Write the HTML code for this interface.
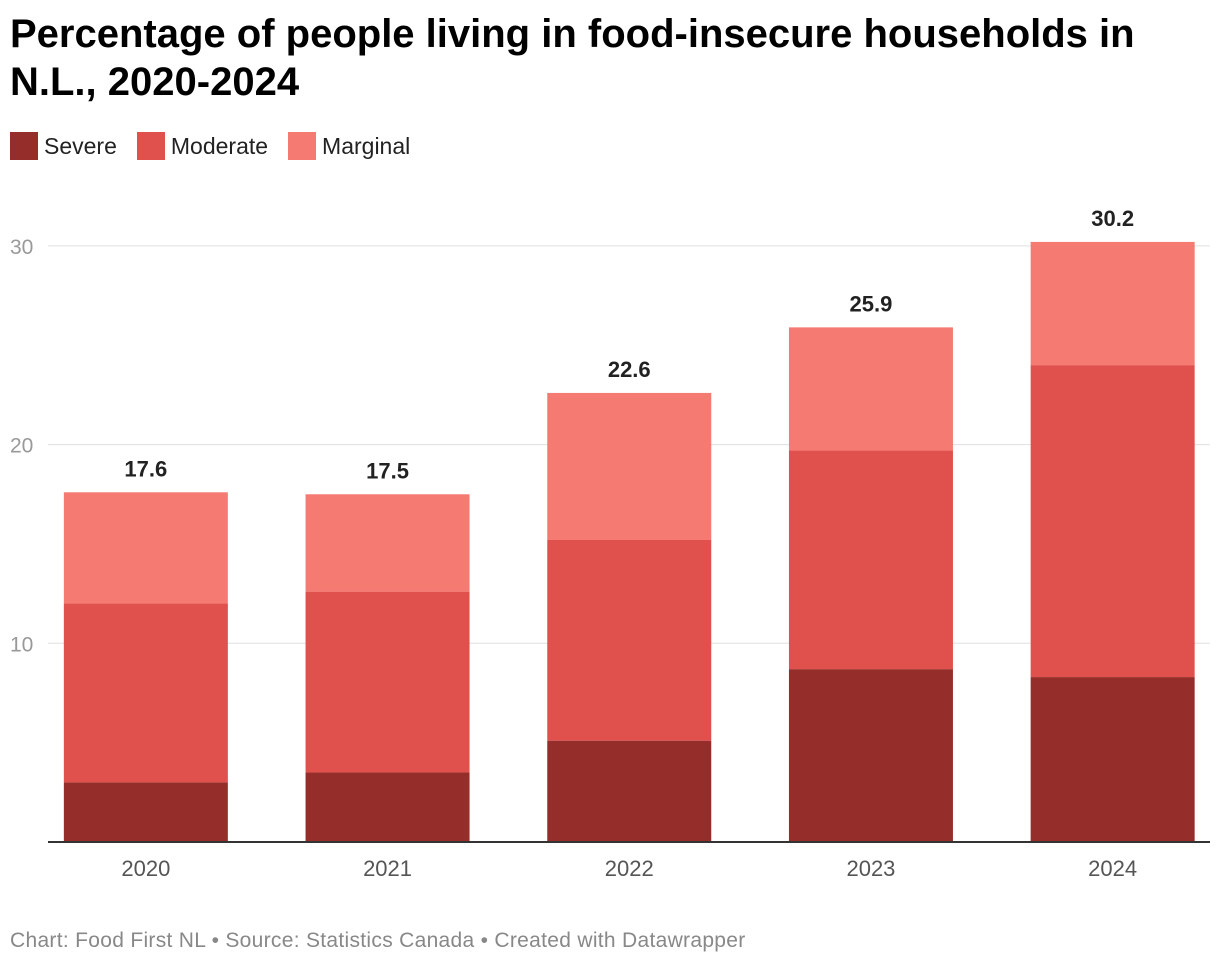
<!DOCTYPE html>
<html><head><meta charset="utf-8"><style>
body{margin:0;width:1220px;height:966px;background:#fff;font-family:"Liberation Sans",sans-serif;overflow:hidden;position:relative}
h1{position:absolute;left:10px;top:10px;margin:0;font-size:40px;line-height:48px;font-weight:bold;color:#000;width:1190px}
.legend{position:absolute;left:10px;top:132px;display:flex;font-size:23px;color:#222}
.li{display:flex;align-items:center;margin-right:20px}
.sw{width:28px;height:28px;margin-right:6px}
.foot{position:absolute;left:10px;top:929px;font-size:21px;color:#888;letter-spacing:0.3px}
</style></head><body>
<h1>Percentage of people living in food-insecure households in N.L., 2020-2024</h1>
<div class="legend">
<div class="li"><div class="sw" style="background:#952d2b"></div>Severe</div>
<div class="li"><div class="sw" style="background:#e0504c"></div>Moderate</div>
<div class="li"><div class="sw" style="background:#f47a72"></div>Marginal</div>
</div>
<svg id="chart" width="1220" height="966" style="position:absolute;left:0;top:0"></svg>
<div class="foot">Chart: Food First NL • Source: Statistics Canada • Created with Datawrapper</div>
<script>
const years=["2020","2021","2022","2023","2024"];
const severe=[3.0,3.5,5.1,8.7,8.3];
const moderate=[9.0,9.1,10.1,11.0,15.7];
const marginal=[5.6,4.9,7.4,6.2,6.2];
const totals=["17.6","17.5","22.6","25.9","30.2"];
const yTicks=[10,20,30];
const NS="http://www.w3.org/2000/svg";
const svg=document.getElementById('chart');
const y0=842,pxPer=19.87;
const y=v=>y0-v*pxPer;
const step=241.7,x0=25,bw=164;
const cx=i=>x0+step*(i+0.5);
function mk(t,a){const e=document.createElementNS(NS,t);for(const k in a)e.setAttribute(k,a[k]);svg.appendChild(e);return e;}
yTicks.forEach(t=>{
 const l=mk('line',{x1:48,x2:1210,y1:y(t),y2:y(t),stroke:'#e0e0e0','stroke-width':1});
 
 
 const tx=mk('text',{x:10,y:y(t)+8,'font-size':21,fill:'#999','font-family':'Liberation Sans'});
 tx.textContent=t;
 
 
});
const series=[[severe,'#952d2b','severe'],[moderate,'#e0504c','moderate'],[marginal,'#f47a72','marginal']];
years.forEach((yr,i)=>{
 let base=0;
 series.forEach(([arr,c,n])=>{
  const r=mk('rect',{x:cx(i)-bw/2,y:y(base+arr[i]),width:bw,height:arr[i]*pxPer,fill:c});
  
  
  base+=arr[i];
 });
 const tot=severe[i]+moderate[i]+marginal[i];
 const t=mk('text',{x:cx(i),y:y(tot)-16,'text-anchor':'middle','font-size':22,'font-weight':'bold',fill:'#222','font-family':'Liberation Sans'});
 t.textContent=totals[i];
 
 
 const xl=mk('text',{x:cx(i),y:876,'text-anchor':'middle','font-size':22,fill:'#555','font-family':'Liberation Sans'});
 xl.textContent=yr;
 
 
});
const b=mk('line',{x1:48,x2:1210,y1:y0,y2:y0,stroke:'#333','stroke-width':2});


</script>
</body></html>
